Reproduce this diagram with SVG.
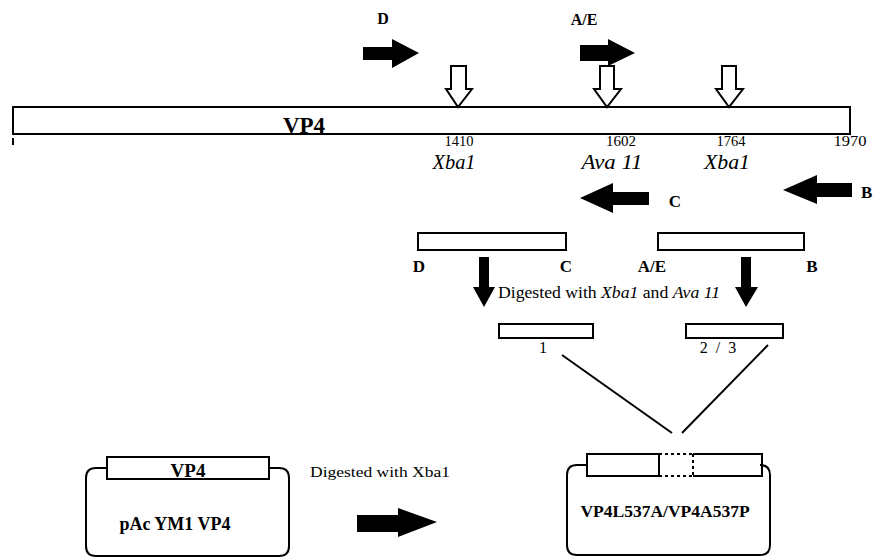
<svg xmlns="http://www.w3.org/2000/svg" width="874" height="557" viewBox="0 0 874 557">
<style>
.box{fill:#fff;stroke:#000;stroke-width:2}
.solid{fill:#000;stroke:none}
.hollow{fill:#fff;stroke:#000;stroke-width:2;stroke-linejoin:miter}
.line{fill:none;stroke:#000;stroke-width:2}
.dot{fill:none;stroke:#000;stroke-width:2;stroke-dasharray:3 3}
text{font-family:"Liberation Serif","Times New Roman",serif;fill:#000}
.b{font-weight:bold}
.i{font-style:italic}
</style>
<rect width="874" height="557" fill="#fff"/>

<g id="vp4-gene">
  <rect class="box" x="13" y="107" width="837" height="27"/>
  <line class="line" x1="13" y1="138" x2="13" y2="145" stroke-width="1.5"/>
  <text class="b" x="304" y="133" font-size="23" text-anchor="middle">VP4</text>
  <text x="459" y="146" font-size="14" text-anchor="middle" textLength="29" lengthAdjust="spacingAndGlyphs">1410</text>
  <text x="621" y="146" font-size="14" text-anchor="middle" textLength="30" lengthAdjust="spacingAndGlyphs">1602</text>
  <text x="731" y="146" font-size="14" text-anchor="middle" textLength="29" lengthAdjust="spacingAndGlyphs">1764</text>
  <text x="850" y="146" font-size="14" text-anchor="middle" textLength="33" lengthAdjust="spacingAndGlyphs">1970</text>
  <text class="i" x="454" y="169" font-size="20" text-anchor="middle" textLength="43" lengthAdjust="spacingAndGlyphs">Xba1</text>
  <text class="i" x="612" y="169" font-size="20" text-anchor="middle" textLength="61" lengthAdjust="spacingAndGlyphs">Ava 11</text>
  <text class="i" x="727" y="169" font-size="20" text-anchor="middle" textLength="46" lengthAdjust="spacingAndGlyphs">Xba1</text>
</g>

<g id="primer-D">
  <text class="b" x="383" y="24" font-size="16" text-anchor="middle">D</text>
  <polygon class="solid" points="363,47 392,47 392,39 419,53 392,68 392,60 363,60"/>
</g>
<g id="primer-AE">
  <text class="b" x="584" y="25" font-size="16" text-anchor="middle">A/E</text>
  <polygon class="solid" points="580,45 608,45 608,39 635,53 608,66 608,61 580,61"/>
</g>
<g id="primer-C">
  <polygon class="solid" points="580,198 613,183 613,192 649,192 649,205 613,205 613,213"/>
  <text class="b" x="675" y="207" font-size="17" text-anchor="middle">C</text>
</g>
<g id="primer-B">
  <polygon class="solid" points="783,190 817,175 817,183 852,183 852,197 817,197 817,204"/>
  <text class="b" x="861" y="198" font-size="17">B</text>
</g>

<g id="site-xba1-1410">
  <polygon class="hollow" points="451,66 466,66 466,89 472,89 458,107 446,89 451,89"/>
</g>
<g id="site-ava11-1602">
  <polygon class="hollow" points="600,66 614,66 614,89 621,89 607,107 594,89 600,89"/>
</g>
<g id="site-xba1-1764">
  <polygon class="hollow" points="722,66 736,66 736,89 743,89 729,107 716,89 722,89"/>
</g>

<g id="fragment-DC">
  <rect class="box" x="418" y="233" width="148" height="17"/>
  <text class="b" x="419" y="272" font-size="17" text-anchor="middle">D</text>
  <text class="b" x="566" y="272" font-size="17" text-anchor="middle">C</text>
</g>
<g id="fragment-AEB">
  <rect class="box" x="658" y="233" width="146" height="17"/>
  <text class="b" x="652" y="272" font-size="17" text-anchor="middle">A/E</text>
  <text class="b" x="812" y="272" font-size="17" text-anchor="middle">B</text>
</g>

<g id="digest-label">
  <text x="498" y="298" font-size="16" textLength="222" lengthAdjust="spacingAndGlyphs">Digested with <tspan class="i">Xba1</tspan> and <tspan class="i">Ava 11</tspan></text>
</g>

<g id="piece-1">
  <rect class="box" x="499" y="324" width="94" height="14"/>
  <text x="543" y="353" font-size="16" text-anchor="middle">1</text>
</g>
<g id="piece-2-3">
  <rect class="box" x="686" y="324" width="97" height="14"/>
  <text x="718" y="353" font-size="16" text-anchor="middle" xml:space="preserve">2  /  3</text>
</g>

<g id="plasmid-pAc">
  <path class="line" d="M107,468 H96 Q86,468 86,478 V546 Q86,556 96,556 H279 Q289,556 289,546 V478 Q289,468 279,468 H269"/>
  <rect class="box" x="107" y="457" width="162" height="22"/>
  <text class="b" x="188" y="477" font-size="19" text-anchor="middle">VP4</text>
  <text class="b" x="175" y="530" font-size="18" text-anchor="middle">pAc YM1 VP4</text>
</g>

<g id="transfer">
  <text x="310" y="477" font-size="15" textLength="140" lengthAdjust="spacingAndGlyphs">Digested with Xba1</text>
  <polygon class="solid" points="357,515 398,515 398,508 437,522 398,537 398,532 357,532"/>
</g>

<g id="plasmid-mutant">
  <path class="line" d="M587,465 H577 Q567,465 567,475 V545 Q567,555 577,555 H760 Q770,555 770,545 V475 Q770,465 760,465 H762"/>
  <rect class="box" x="587" y="454" width="72" height="22"/>
  <path class="dot" d="M659,454 H693 M659,476 H693 M693,454 V476"/>
  <path class="line" d="M693,454 H762 V476 H693"/>
  <text class="b" x="665" y="517" font-size="17.5" text-anchor="middle">VP4L537A/VP4A537P</text>
</g>

<g id="connectors">
  <polygon class="solid" points="479,257 489,257 489,287 495,287 484,307 473,287 479,287"/>
  <polygon class="solid" points="741,257 751,257 751,287 758,287 746,307 735,287 741,287"/>
  <line class="line" x1="562" y1="355" x2="672" y2="433"/>
  <line class="line" x1="768" y1="345" x2="682" y2="433"/>
</g>
</svg>
